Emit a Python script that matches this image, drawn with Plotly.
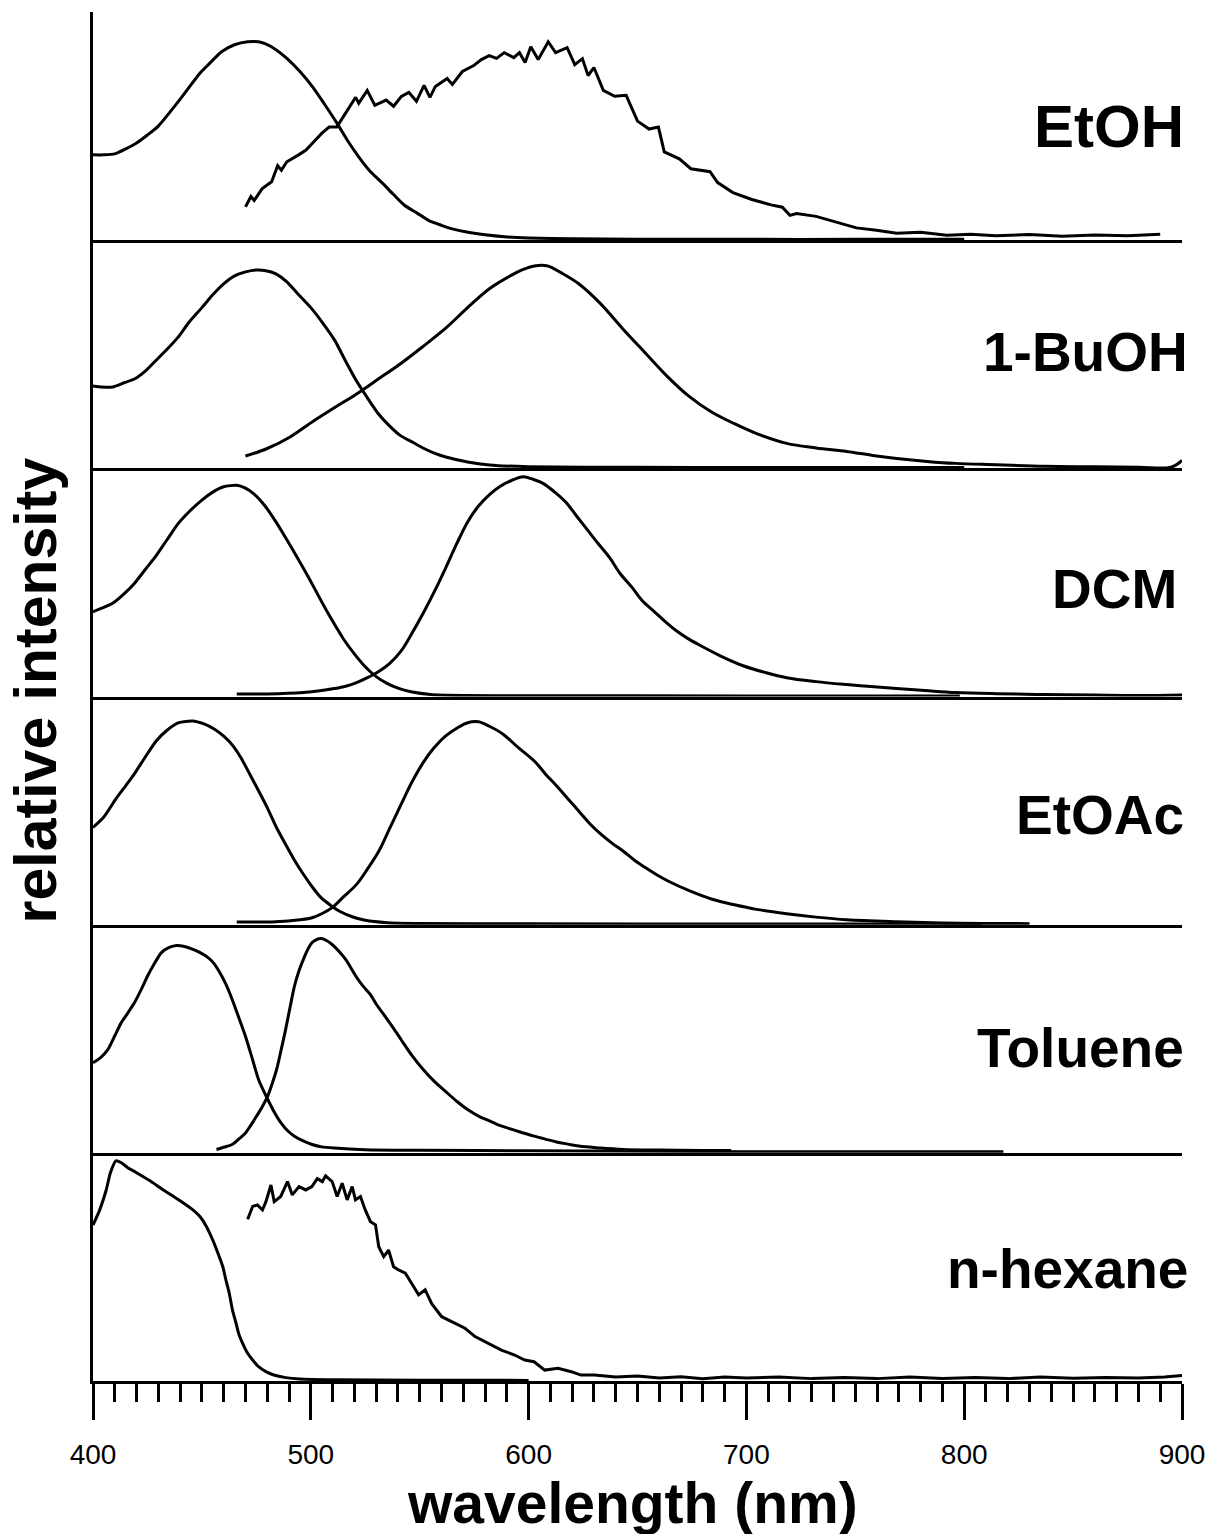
import plotly.graph_objects as go
from plotly.subplots import make_subplots

# ---------------- data ----------------
solvents = ["EtOH", "1-BuOH", "DCM", "EtOAc", "Toluene", "n-hexane"]

etoh_abs_x = [400, 405, 410, 415, 420, 425, 430, 440, 449, 453, 459, 465, 471, 476, 479, 484, 489, 495, 501, 506,
              512, 517, 522, 527, 533, 538, 543, 549, 554, 560, 565, 571, 580, 589, 600, 620, 650, 700, 750, 800]
etoh_abs_y = [0.43, 0.43, 0.435, 0.46, 0.49, 0.53, 0.575, 0.71, 0.84, 0.885, 0.95, 0.985, 1.0, 1.0, 0.99, 0.96,
              0.916, 0.85, 0.77, 0.69, 0.59, 0.50, 0.42, 0.35, 0.286, 0.23, 0.176, 0.135, 0.10, 0.075, 0.057, 0.042,
              0.027, 0.017, 0.011, 0.007, 0.005, 0.004, 0.004, 0.004]
etoh_em_x = [470, 472.5, 474, 477.7, 482, 484.8, 486.5, 489, 494.4, 497.8, 501.4, 505, 508.4, 511.9, 515.4, 520.6, 522,
             525.9, 529.4, 534.6, 538, 541.6, 545, 548.5, 552, 554.7, 557.2, 562.6, 565, 569.6, 574.8, 578.3, 581.9,
             585.3, 588.8, 593.2, 595.8, 598.4, 601, 604.4, 609, 612.4, 617.7, 621.2, 624.7, 627.3, 630, 634.3, 639.5,
             644.8, 650, 655.3, 659.6, 662.3, 669.2, 674.5, 683.3, 686.8, 693.8, 702.5, 711.3, 716.5, 720, 723, 732,
             741, 750.5, 759.7, 769, 780, 792, 803, 814.5, 830, 845, 860, 875, 890]
etoh_em_y = [0.168, 0.22, 0.20, 0.26, 0.294, 0.375, 0.353, 0.395, 0.43, 0.454, 0.496, 0.538, 0.57, 0.57, 0.63, 0.72,
             0.69, 0.755, 0.68, 0.706, 0.675, 0.725, 0.745, 0.70, 0.78, 0.72, 0.775, 0.815, 0.785, 0.85, 0.88, 0.91,
             0.93, 0.916, 0.945, 0.92, 0.945, 0.895, 0.975, 0.91, 1.0, 0.945, 0.97, 0.885, 0.915, 0.83, 0.87, 0.755,
             0.725, 0.73, 0.60, 0.56, 0.57, 0.445, 0.41, 0.36, 0.345, 0.29, 0.24, 0.205, 0.178, 0.166, 0.125,
             0.134, 0.12, 0.09, 0.062, 0.05, 0.035, 0.04, 0.025, 0.03, 0.022, 0.028, 0.02, 0.026, 0.022, 0.03]

buoh_abs_x = [400, 404, 409, 414, 419, 424, 429, 434, 439, 444, 450, 455, 460, 465, 470, 475, 480, 484, 489, 494,
              500, 505, 511, 516, 521, 526, 531, 536, 541, 547, 552, 557, 562, 572, 582, 600, 650, 700, 800]
buoh_abs_y = [0.415, 0.41, 0.41, 0.43, 0.45, 0.49, 0.545, 0.60, 0.66, 0.735, 0.81, 0.875, 0.93, 0.97, 0.99, 1.0,
              0.995, 0.98, 0.94, 0.88, 0.81, 0.74, 0.645, 0.54, 0.44, 0.355, 0.275, 0.215, 0.166, 0.13, 0.10, 0.075,
              0.057, 0.032, 0.017, 0.008, 0.005, 0.004, 0.004]
buoh_em_x = [470, 480, 490.5, 500.6, 510.8, 521, 531, 541.5, 551.6, 561.8, 572, 582, 592.4, 597, 602.6, 608.8, 615,
             623, 633, 643.5, 653.7, 664, 674, 684, 694.5, 704.7, 718.5, 732, 746, 758, 769, 783, 796, 815, 837, 860,
             880, 895, 900]
buoh_em_y = [0.062, 0.10, 0.158, 0.234, 0.305, 0.375, 0.45, 0.53, 0.615, 0.705, 0.81, 0.905, 0.975, 1.0, 1.02, 1.02,
             0.985, 0.93, 0.83, 0.70, 0.58, 0.46, 0.36, 0.284, 0.225, 0.175, 0.126, 0.103, 0.085, 0.065, 0.05, 0.035,
             0.025, 0.018, 0.01, 0.008, 0.006, 0.006, 0.04]

dcm_abs_x = [400, 404, 409, 414, 419, 424, 429, 434, 439, 444, 450, 455, 460, 466, 470, 474, 479, 484, 489, 494.5,
             500, 505, 510, 515, 520, 525, 530, 535, 540, 546, 555, 570, 600, 700, 798]
dcm_abs_y = [0.427, 0.445, 0.47, 0.515, 0.57, 0.64, 0.71, 0.79, 0.87, 0.93, 0.99, 1.03, 1.057, 1.065, 1.05, 1.02,
             0.96, 0.88, 0.79, 0.687, 0.58, 0.477, 0.38, 0.29, 0.215, 0.15, 0.10, 0.066, 0.042, 0.024, 0.01, 0.005,
             0.004, 0.003, 0.003]
dcm_em_x = [466, 480, 496.5, 505, 510.8, 516, 521, 526, 531, 536, 541.5, 546.5, 551.6, 557, 561.8, 567, 572, 577,
            582.3, 587, 592.4, 597.5, 602, 606.6, 612, 617, 622, 627, 632, 637.2, 642, 647.5, 652, 657.8, 663, 668,
            673, 678, 688, 698.5, 708.7, 718.5, 732, 746, 757, 769, 782, 796, 815, 837, 860, 880, 900]
dcm_em_y = [0.013, 0.013, 0.02, 0.03, 0.04, 0.052, 0.07, 0.095, 0.125, 0.165, 0.23, 0.32, 0.42, 0.535, 0.645, 0.77,
            0.88, 0.96, 1.02, 1.06, 1.09, 1.107, 1.095, 1.074, 1.03, 0.98, 0.91, 0.84, 0.77, 0.70, 0.62, 0.55, 0.485,
            0.427, 0.375, 0.33, 0.293, 0.262, 0.205, 0.155, 0.121, 0.095, 0.075, 0.06, 0.05, 0.04, 0.03, 0.02, 0.014,
            0.01, 0.007, 0.005, 0.008]

etoac_abs_x = [400, 404.8, 410.9, 415, 419, 424, 429, 434, 439.4, 445.6, 451, 455.8, 460, 464, 468, 472, 476, 480,
               484, 488.4, 492.5, 496.6, 500.7, 504.7, 509, 513, 519, 525, 535, 550, 600, 700, 808]
etoac_abs_y = [0.49, 0.54, 0.64, 0.70, 0.76, 0.845, 0.926, 0.98, 1.018, 1.027, 1.012, 0.985, 0.95, 0.905, 0.84,
               0.758, 0.675, 0.59, 0.495, 0.405, 0.325, 0.254, 0.19, 0.136, 0.098, 0.069, 0.04, 0.022, 0.01, 0.006,
               0.004, 0.003, 0.003]
etoac_em_x = [466, 484, 495, 500.6, 505, 509.8, 515, 521, 526, 531.2, 536, 541.5, 546.5, 551.6, 556.5, 561.8, 567,
              572, 577, 582, 588.3, 595, 602.6, 607.7, 612.8, 618, 623, 628, 633.3, 638.4, 643.5, 648.6, 653.7, 659,
              664, 674, 684.3, 694.5, 704.7, 718.5, 732, 746, 769, 790, 808, 830]
etoac_em_y = [0.013, 0.015, 0.025, 0.035, 0.055, 0.086, 0.14, 0.203, 0.28, 0.37, 0.48, 0.607, 0.72, 0.817, 0.89,
              0.95, 0.99, 1.018, 1.023, 1.0, 0.96, 0.895, 0.825, 0.76, 0.70, 0.635, 0.573, 0.51, 0.455, 0.41, 0.37,
              0.325, 0.287, 0.25, 0.22, 0.17, 0.128, 0.10, 0.077, 0.055, 0.038, 0.025, 0.015, 0.009, 0.006, 0.005]

tol_abs_x = [400, 403.5, 406.8, 410, 412.9, 416, 419, 422, 425, 428, 431.3, 435, 438.4, 442, 445.6, 449, 452.7,
             455.5, 457.8, 461, 463.9, 467, 470, 473, 476, 480.2, 483, 486.4, 489.5, 492.5, 496.5, 500.6, 505, 510.8,
             525, 550, 600, 700, 818]
tol_abs_y = [0.454, 0.48, 0.52, 0.59, 0.655, 0.705, 0.756, 0.82, 0.89, 0.95, 1.008, 1.035, 1.045, 1.04, 1.027, 1.01,
             0.985, 0.955, 0.916, 0.85, 0.773, 0.68, 0.588, 0.48, 0.37, 0.27, 0.21, 0.15, 0.11, 0.084, 0.06, 0.042,
             0.03, 0.024, 0.016, 0.013, 0.01, 0.006, 0.005]
tol_em_x = [456.7, 460, 463.9, 467, 470, 472.5, 475.1, 477.6, 480.2, 482.3, 484.3, 486.4, 488.4, 490.5, 492.5, 494.5,
            496.6, 498.6, 500.6, 502.6, 504.7, 507.2, 509.8, 513, 516, 518.5, 521, 524, 527.2, 530, 533.3, 537.5,
            541.5, 546.5, 551.6, 556.7, 561.8, 567, 572, 577, 582.3, 587, 592.4, 597.5, 602.6, 608, 612.8, 618, 623,
            633, 643.5, 660, 680, 693]
tol_em_y = [0.017, 0.028, 0.042, 0.07, 0.10, 0.14, 0.185, 0.23, 0.286, 0.35, 0.42, 0.52, 0.62, 0.735, 0.84, 0.915,
            0.975, 1.025, 1.06, 1.075, 1.08, 1.07, 1.05, 1.015, 0.975, 0.93, 0.885, 0.84, 0.80, 0.75, 0.70, 0.635,
            0.57, 0.49, 0.42, 0.36, 0.31, 0.26, 0.218, 0.185, 0.16, 0.137, 0.118, 0.10, 0.084, 0.068, 0.055, 0.044,
            0.034, 0.024, 0.017, 0.014, 0.012, 0.012]

hex_abs_x = [400, 403, 406, 408, 410.5, 413, 416, 420, 426, 432, 439.8, 445, 449, 452, 455, 457.5, 459.6, 461, 462.6,
             464, 465.7, 467, 468.7, 471, 473.3, 476, 479.4, 483, 488.5, 495, 510, 550, 600]
hex_abs_y = [0.786, 0.86, 0.96, 1.05, 1.11, 1.10, 1.075, 1.05, 1.01, 0.965, 0.91, 0.87, 0.83, 0.78, 0.71, 0.64,
             0.576, 0.51, 0.44, 0.36, 0.29, 0.235, 0.19, 0.14, 0.106, 0.072, 0.047, 0.03, 0.017, 0.01, 0.006, 0.004,
             0.003]
hex_em_x = [471, 473.3, 475.5, 477.8, 479.4, 481.7, 483.2, 486.2, 489.3, 491.5, 494.6, 497.7, 500.5, 503, 505.3, 506.8,
            509.8, 512.1, 514.4, 516.7, 519, 520.5, 522.8, 525, 527.4, 529.7, 531.2, 533.5, 535.7, 538, 540.3, 543.4,
            546.4, 549.5, 552.5, 555.5, 560.1, 564.7, 570.8, 575.4, 581.4, 587.5, 593.6, 598.2, 602.5, 607.4, 613.5,
            619.6, 624, 630.2, 640, 650, 660, 670, 680, 690, 700, 715, 730, 745, 760, 775, 790, 805, 820, 835, 850,
            865, 880, 892, 900]
hex_em_y = [0.815, 0.88, 0.887, 0.862, 0.904, 0.988, 0.904, 0.93, 1.005, 0.938, 0.98, 0.963, 0.98, 1.02, 1.005,
            1.034, 1.005, 0.93, 0.997, 0.913, 0.98, 0.913, 0.93, 0.862, 0.803, 0.787, 0.677, 0.627, 0.66, 0.576,
            0.56, 0.543, 0.49, 0.434, 0.46, 0.39, 0.324, 0.30, 0.266, 0.224, 0.19, 0.156, 0.131, 0.106, 0.097, 0.055,
            0.064, 0.047, 0.03, 0.03, 0.02, 0.025, 0.015, 0.022, 0.012, 0.02, 0.015, 0.02, 0.012, 0.018, 0.012, 0.02,
            0.013, 0.018, 0.012, 0.02, 0.014, 0.018, 0.015, 0.02, 0.028]

absorption = [(etoh_abs_x, etoh_abs_y), (buoh_abs_x, buoh_abs_y), (dcm_abs_x, dcm_abs_y),
              (etoac_abs_x, etoac_abs_y), (tol_abs_x, tol_abs_y), (hex_abs_x, hex_abs_y)]
emission = [(etoh_em_x, etoh_em_y), (buoh_em_x, buoh_em_y), (dcm_em_x, dcm_em_y),
            (etoac_em_x, etoac_em_y), (tol_em_x, tol_em_y), (hex_em_x, hex_em_y)]
noisy_emission = [True, False, False, False, False, True]
label_pos = [0.50, 0.51, 0.47, 0.48, 0.46, 0.49]
label_shift = [4, 8, -3, 4, 4, 8]
label_size = [60, 55, 55, 55, 55, 55]

x_major = [400, 500, 600, 700, 800, 900]

# ---------------- figure ----------------
FONT = "Liberation Sans, Arial, Helvetica, sans-serif"
fig = make_subplots(rows=6, cols=1, shared_xaxes=True, vertical_spacing=0)

for i in range(6):
    ax, ay = absorption[i]
    ex, ey = emission[i]
    fig.add_trace(go.Scatter(x=ax, y=ay, mode="lines",
                             line=dict(color="black", width=3, shape="spline", smoothing=0.6),
                             hoverinfo="skip"), row=i + 1, col=1)
    fig.add_trace(go.Scatter(x=ex, y=ey, mode="lines",
                             line=dict(color="black", width=3,
                                       shape="linear" if noisy_emission[i] else "spline"),
                             hoverinfo="skip"), row=i + 1, col=1)
    fig.update_yaxes(range=[0, 1.15], showline=True, linewidth=3, linecolor="black",
                     showticklabels=False, ticks="", showgrid=False, zeroline=False, row=i + 1, col=1)
    fig.update_xaxes(range=[400, 900], showline=True, linewidth=3, linecolor="black",
                     showgrid=False, zeroline=False, row=i + 1, col=1)
    yref = "y domain" if i == 0 else f"y{i + 1} domain"
    fig.add_annotation(text=f"<b>{solvents[i]}</b>", xref="paper", x=1.0, xanchor="right",
                       xshift=label_shift[i],
                       yref=yref, y=label_pos[i], yanchor="middle", showarrow=False,
                       font=dict(family=FONT, size=label_size[i], color="black"))

for i in range(5):
    fig.update_xaxes(ticks="", showticklabels=False, row=i + 1, col=1)

fig.update_xaxes(ticks="outside", ticklen=36, tickwidth=3, tickcolor="black",
                 tickvals=x_major, ticktext=[str(v) for v in x_major], showticklabels=True,
                 tickfont=dict(family=FONT, size=28, color="black"), ticklabelstandoff=10,
                 minor=dict(ticks="outside", ticklen=18, tickwidth=3, tickcolor="black", dtick=10, tick0=400),
                 row=6, col=1)

fig.add_annotation(text="<b>relative intensity</b>", xref="paper", yref="paper",
                   x=-0.052, y=0.5047, xanchor="center", yanchor="middle", textangle=-90,
                   showarrow=False, font=dict(family=FONT, size=59, color="black"))
fig.add_annotation(text="<b>wavelength (nm)</b>", xref="paper", yref="paper",
                   x=0.4954, y=-0.0891, xanchor="center", yanchor="middle",
                   showarrow=False, font=dict(family=FONT, size=57, color="black"))

fig.update_layout(width=1217, height=1534, margin=dict(l=93, r=30, t=12, b=153),
                  paper_bgcolor="white", plot_bgcolor="white", showlegend=False)

fig.write_html("out.html")
